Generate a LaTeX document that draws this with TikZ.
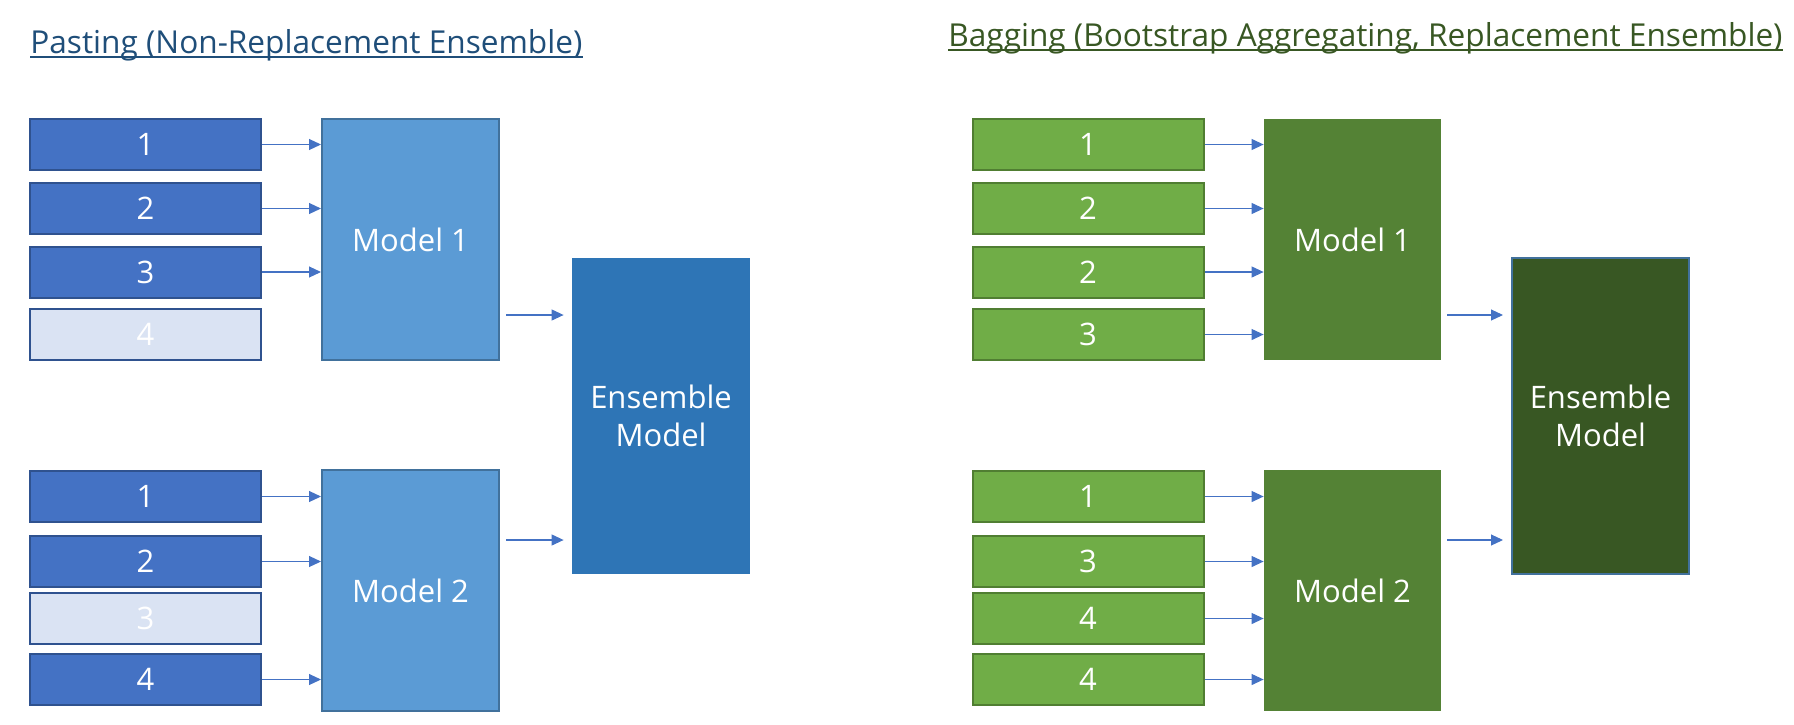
\documentclass[tikz,border=0pt]{standalone}
\usepackage{fontspec}
\setmainfont{Open Sans}
\usetikzlibrary{arrows.meta,calc}

\definecolor{pastetitle}{HTML}{1F4E79}
\definecolor{bagtitle}{HTML}{385723}
\definecolor{dblue}{HTML}{4472C4}
\definecolor{dblueline}{HTML}{2F528F}
\definecolor{lblue}{HTML}{DAE3F3}
\definecolor{mblue}{HTML}{5B9BD5}
\definecolor{mblueline}{HTML}{41719C}
\definecolor{eblue}{HTML}{2E75B6}
\definecolor{lgreen}{HTML}{70AD47}
\definecolor{lgreenline}{HTML}{507E32}
\definecolor{mgreen}{HTML}{548235}
\definecolor{egreen}{HTML}{385723}

\begin{document}
\begin{tikzpicture}[x=0.5pt,y=-0.5pt,
  every node/.style={font=\fontsize{15.5}{19}\selectfont, text=white, inner sep=0pt},
  title/.style={anchor=base west, font=\fontsize{15.8}{19}\selectfont},
  dbox/.style={draw=dblueline, fill=dblue, line width=1pt, minimum width=115.5pt, minimum height=25.5pt},
  lbox/.style={draw=dblueline, fill=lblue, line width=1pt, minimum width=115.5pt, minimum height=25.5pt},
  gbox/.style={draw=lgreenline, fill=lgreen, line width=1pt, minimum width=115.5pt, minimum height=25.5pt},
  pmodel/.style={draw=mblueline, fill=mblue, line width=1pt, minimum width=88.5pt, minimum height=120.5pt},
  bmodel/.style={fill=mgreen, minimum width=88.5pt, minimum height=120.5pt},
  pens/.style={fill=eblue, minimum width=89pt, minimum height=158pt, align=center},
  bens/.style={draw=mblueline, fill=egreen, line width=1pt, minimum width=88.5pt, minimum height=158pt, align=center},
  arr/.style={-{Triangle[length=6pt,width=5.5pt]}, draw=dblue, line width=0.55pt}]
\useasboundingbox (0,0) rectangle (1794,724);

% titles
\node[title, text=pastetitle] (ptitle) at (30,53) {Pasting (Non-Replacement Ensemble)};
\draw[pastetitle, line width=1pt] ([yshift=-2pt]ptitle.base west) -- ([yshift=-2pt]ptitle.base east);
\node[title, text=bagtitle] (btitle) at (948,46) {Bagging (Bootstrap Aggregating, Replacement Ensemble)};
\draw[bagtitle, line width=1pt] ([yshift=-2pt]btitle.base west) -- ([yshift=-2pt]btitle.base east);

% pasting: samples without replacement
\foreach \n/\y/\s in {1/144.5/dbox, 2/208.5/dbox, 3/272/dbox, 4/334.5/lbox} {
    \node[\s] (pa\n) at (145.5,\y) {\n};
}
\foreach \n/\y/\s in {1/496.5/dbox, 2/561.5/dbox, 3/618.5/lbox, 4/679.5/dbox} {
    \node[\s] (pb\n) at (145.5,\y) {\n};
}
\node[pmodel] (pm1) at (410.5,239.5) {Model 1};
\node[pmodel] (pm2) at (410.5,590.5) {Model 2};
\node[pens] (pens) at (661,416) {Ensemble\\Model};
\foreach \n in {1,2,3} {
    \draw[arr] (pa\n) -- (pa\n -| pm1.west);
}
\foreach \n in {1,2,4} {
    \draw[arr] (pb\n) -- (pb\n -| pm2.west);
}
\draw[arr] ($(pm1.east |- pens.west)+(6,-101)$) -- ($(pens.west)+(-8,-101)$);
\draw[arr] ($(pm2.east |- pens.west)+(6,124)$) -- ($(pens.west)+(-8,124)$);

% bagging: samples with replacement
\foreach \n/\t/\y in {1/1/144.5, 2/2/208.5, 3/2/272, 4/3/334.5} {
    \node[gbox] (ba\n) at (1088,\y) {\t};
}
\foreach \n/\t/\y in {1/1/496.5, 2/3/561.5, 3/4/618.5, 4/4/679.5} {
    \node[gbox] (bb\n) at (1088,\y) {\t};
}
\node[bmodel] (bm1) at (1352.5,239.5) {Model 1};
\node[bmodel] (bm2) at (1352.5,590.5) {Model 2};
\node[bens] (bens) at (1600.5,416) {Ensemble\\Model};
\foreach \n in {1,...,4} {
    \draw[arr] (ba\n) -- (ba\n -| bm1.west);
    \draw[arr] (bb\n) -- (bb\n -| bm2.west);
}
\draw[arr] ($(bm1.east |- bens.west)+(6,-101)$) -- ($(bens.west)+(-8,-101)$);
\draw[arr] ($(bm2.east |- bens.west)+(6,124)$) -- ($(bens.west)+(-8,124)$);
\end{tikzpicture}
\end{document}
